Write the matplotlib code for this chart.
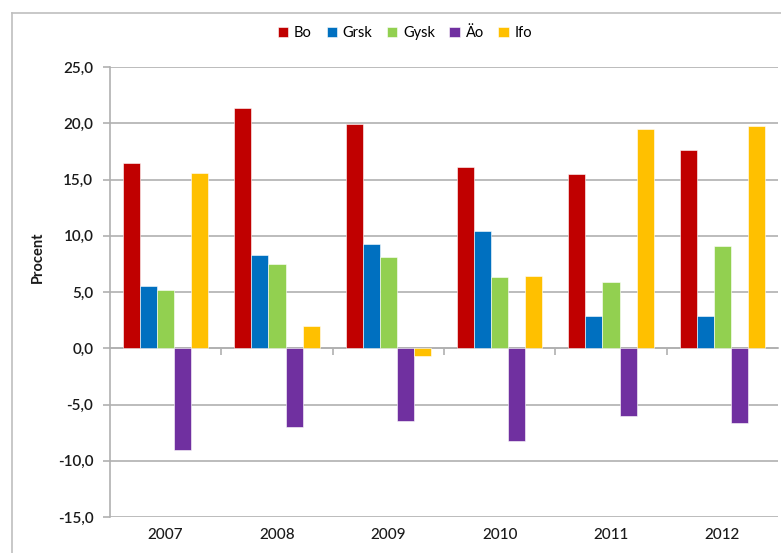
import matplotlib.pyplot as plt
from matplotlib.lines import Line2D
from matplotlib.ticker import FuncFormatter
import numpy as np

plt.rcParams['font.family'] = ['Lato', 'DejaVu Sans']

years = ["2007", "2008", "2009", "2010", "2011", "2012"]
series = ["Bo", "Grsk", "Gysk", "Äo", "Ifo"]
bo = [16.5, 21.4, 19.9, 16.1, 15.5, 17.6]
grsk = [5.5, 8.3, 9.3, 10.4, 2.9, 2.9]
gysk = [5.2, 7.5, 8.1, 6.3, 5.9, 9.1]
ao = [-9.0, -7.0, -6.5, -8.2, -6.0, -6.6]
ifo = [15.6, 2.0, -0.7, 6.4, 19.5, 19.8]
colors = ["#C00000", "#0070C0", "#92D050", "#7030A0", "#FFC000"]

values = [bo, grsk, gysk, ao, ifo]
grid_c = "#B0B0B0"

fig = plt.figure(figsize=(7.81, 5.53), dpi=100)
ax = fig.add_axes([110 / 781, 1 - 517 / 553, 668 / 781, 450 / 553])

x = np.arange(len(years))
w = 0.153
for i, (name, vals, c) in enumerate(zip(series, values, colors)):
    ax.bar(x + (i - 2) * w, vals, w, color=c, label=name,
           edgecolor="white", linewidth=0.4, zorder=3)

ax.set_xlim(-0.5, len(years) - 0.5)
ax.set_ylim(-15, 25)
ax.set_yticks(np.arange(-15, 26, 5))
ax.yaxis.set_major_formatter(FuncFormatter(lambda v, p: f"{v:.1f}".replace(".", ",")))
ax.yaxis.grid(True, color=grid_c, linewidth=1.2, zorder=0)
ax.tick_params(axis="y", length=5, width=1.2, color=grid_c, pad=7,
               labelsize=11, labelcolor="#1a1a1a")
for lab in ax.get_yticklabels():
    lab.set_fontweight("semibold")

# x axis sits on the zero line, ticks between categories
for s in ["top", "right"]:
    ax.spines[s].set_visible(False)
ax.spines["left"].set_color(grid_c)
ax.spines["left"].set_linewidth(1.2)
ax.spines["bottom"].set_position(("data", 0))
ax.spines["bottom"].set_color(grid_c)
ax.spines["bottom"].set_linewidth(1.2)
ax.set_xticks(x)
ax.set_xticklabels([])
ax.set_xticks(np.arange(0.5, len(years) - 0.5, 1), minor=True)
ax.tick_params(axis="x", which="major", length=0)
ax.tick_params(axis="x", which="minor", length=5, width=1.2, color=grid_c)

for xi, yr in zip(x, years):
    ax.text(xi, -16.0, yr, ha="center", va="top", fontsize=11,
            color="#1a1a1a", fontweight="medium")

fig.text(38 / 781, 1 - 257 / 553, "Procent", rotation=90, ha="center",
         va="center", fontsize=10.5, fontweight="bold", color="#1a1a1a")

ax.legend(loc="center", bbox_to_anchor=(405 / 781, 1 - 33 / 553),
          bbox_transform=fig.transFigure, ncol=5, frameon=False,
          handlelength=0.7, handleheight=0.7, handletextpad=0.4,
          columnspacing=1.0, fontsize=10.5)

# outer chart border (partly cropped in the reference)
fig.add_artist(Line2D([12 / 781, 12 / 781], [0, 1 - 13 / 553], color="#BFBFBF", lw=1.2))
fig.add_artist(Line2D([12 / 781, 1], [1 - 13 / 553, 1 - 13 / 553], color="#BFBFBF", lw=1.2))

fig.savefig("out.png", dpi=100)
